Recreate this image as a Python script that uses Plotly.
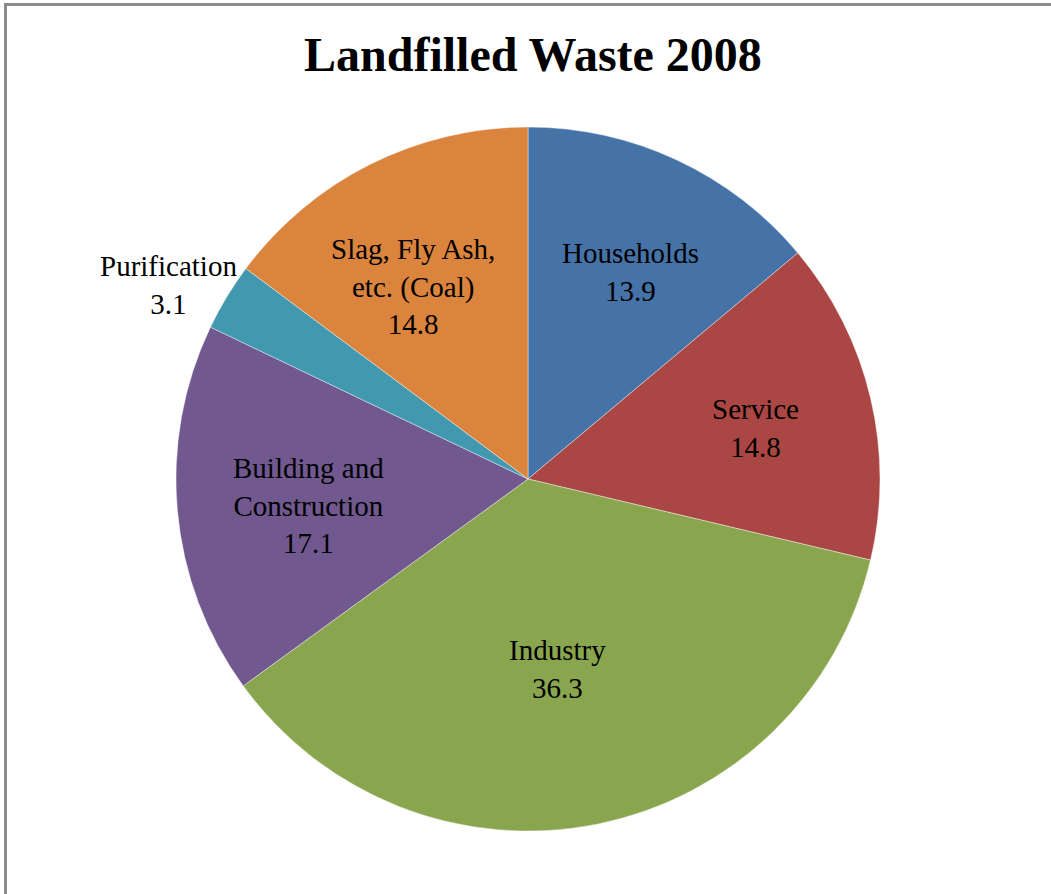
import math
import plotly.graph_objects as go

categories = ["Households", "Service", "Industry", "Building and<br>Construction", "Purification", "Slag, Fly Ash,<br>etc. (Coal)"]
values = [13.9, 14.8, 36.3, 17.1, 3.1, 14.8]
colors = ["#4572A7", "#AA4643", "#89A54E", "#71588F", "#4198AF", "#DB843D"]
# label placement styling: radial fraction of radius and small pixel nudges
label_radius = [0.656, 0.665, 0.545, 0.625, 1.165, 0.634]
label_nudge = [(5, 2), (0, 3), (-8, 2), (0, 6), (-9, 18), (-15, 7)]

W, H = 1051, 894
cx, cy, R = 528, 479, 352

fig = go.Figure()
fig.add_trace(go.Pie(
    labels=categories,
    values=values,
    sort=False,
    direction="clockwise",
    rotation=0,
    marker=dict(colors=colors, line=dict(color="rgba(255,255,255,0.5)", width=0.8)),
    textinfo="none",
    hoverinfo="label+value",
    showlegend=False,
    domain=dict(x=[(cx - R) / W, (cx + R) / W], y=[1 - (cy + R) / H, 1 - (cy - R) / H]),
))

total = sum(values)
cum = 0.0
annotations = []
for lab, v, rf, (dx, dy) in zip(categories, values, label_radius, label_nudge):
    mid = (cum + v / 2) / total * 2 * math.pi
    cum += v
    px = cx + rf * R * math.sin(mid) + dx
    py = cy - rf * R * math.cos(mid) + dy
    annotations.append(dict(
        x=px / W, y=1 - py / H, xref="paper", yref="paper",
        text=f"{lab}<br>{v}", showarrow=False,
        font=dict(family="Liberation Serif", size=29, color="black"),
        xanchor="center", yanchor="middle", align="center",
    ))

annotations.append(dict(
    x=533 / W, y=1 - 54 / H, xref="paper", yref="paper",
    text="<b>Landfilled Waste 2008</b>", showarrow=False,
    font=dict(family="Liberation Serif", size=48, color="black"),
    xanchor="center", yanchor="middle",
))

fig.update_layout(
    width=W, height=H,
    margin=dict(l=0, r=0, t=0, b=0),
    paper_bgcolor="white",
    plot_bgcolor="white",
    annotations=annotations,
    shapes=[dict(type="rect", xref="paper", yref="paper",
                 x0=5.5 / W, x1=1.05, y0=-0.05, y1=1 - 4.5 / H,
                 line=dict(color="#8C8C8C", width=3), fillcolor="rgba(0,0,0,0)",
                 layer="below")],
)

fig.write_html("out.html", config={"displayModeBar": False},
               post_script="document.body.style.margin='0';")
